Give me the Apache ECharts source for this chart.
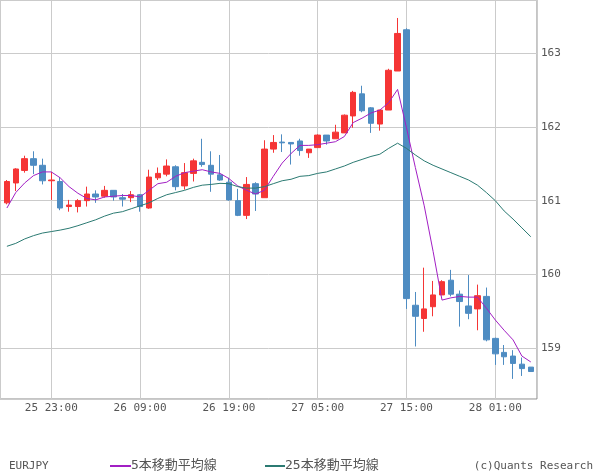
<!DOCTYPE html>
<html><head><meta charset="utf-8">
<script src="https://cdn.jsdelivr.net/npm/echarts@6/dist/echarts.min.js"></script>
<style>html,body{margin:0;padding:0;background:#fff}#c{width:600px;height:475px}</style>
</head><body><div id="c"></div>
<script>
const symbolName = 'EURJPY';
const creditText = '(c)Quants Research';
const legendNames = ['5本移動平均線', '25本移動平均線'];
const xTickLabels = ['25 23:00', '26 09:00', '26 19:00', '27 05:00', '27 15:00', '28 01:00'];
const firstTickIndex = 5;   // candle index of the first labelled hour
const tickEvery = 10;       // hours between labels
const yTickStep = 1;

const opens = [160.97,161.24,161.41,161.57,161.48,161.27,161.26,160.92,160.92,161.00,
  161.09,161.06,161.14,161.04,161.04,161.08,160.90,161.31,161.36,161.46,
  161.20,161.37,161.52,161.48,161.35,161.25,161.00,160.80,161.23,161.04,
  161.70,161.795,161.79,161.81,161.65,161.72,161.89,161.84,161.92,162.15,
  162.45,162.26,162.04,162.23,162.76,163.32,159.58,159.40,159.56,159.72,
  159.92,159.73,159.57,159.53,159.70,159.13,158.94,158.89,158.78,158.74];
const closes = [161.26,161.43,161.57,161.48,161.27,161.28,160.90,160.94,161.00,161.09,
  161.05,161.14,161.05,161.02,161.08,160.92,161.32,161.37,161.47,161.19,
  161.38,161.54,161.49,161.36,161.28,161.01,160.80,161.22,161.09,161.70,
  161.79,161.785,161.77,161.68,161.70,161.89,161.81,161.93,162.16,162.47,
  162.22,162.05,162.23,162.77,163.27,159.67,159.43,159.53,159.72,159.90,
  159.73,159.63,159.47,159.71,159.11,158.92,158.88,158.79,158.72,158.68];
const lows = [160.95,161.13,161.38,161.36,161.22,161.01,160.87,160.85,160.84,160.92,
  160.97,161.04,161.00,160.92,160.98,160.85,160.89,161.28,161.33,161.14,
  161.15,161.26,161.46,161.12,161.27,161.00,160.79,160.75,160.86,161.04,
  161.65,161.66,161.49,161.61,161.58,161.72,161.76,161.84,161.92,161.99,
  162.20,161.92,161.95,162.23,162.76,159.53,159.02,159.22,159.43,159.72,
  159.70,159.29,159.39,159.24,159.09,158.77,158.77,158.58,158.62,158.68];
const highs = [161.28,161.44,161.61,161.67,161.57,161.39,161.32,161.01,161.02,161.19,
  161.14,161.20,161.14,161.09,161.13,161.09,161.42,161.45,161.56,161.48,
  161.51,161.57,161.84,161.67,161.62,161.31,161.16,161.32,161.25,161.82,
  161.89,161.90,161.79,161.84,161.70,161.90,161.89,162.03,162.17,162.49,
  162.56,162.27,162.23,162.79,163.48,163.34,159.76,160.09,159.91,159.92,
  160.06,159.78,159.99,159.86,159.82,159.14,159.04,158.97,158.87,158.74];
const ma5 = [160.90,161.11,161.24,161.34,161.39,161.39,161.31,161.19,161.10,161.03,
  161.01,161.05,161.06,161.07,161.07,161.05,161.14,161.23,161.25,161.33,
  161.38,161.40,161.42,161.39,161.37,161.30,161.20,161.14,161.09,161.14,
  161.33,161.51,161.64,161.75,161.75,161.76,161.78,161.80,161.87,162.06,
  162.12,162.19,162.23,162.33,162.51,161.99,161.45,160.93,160.31,159.65,
  159.68,159.70,159.69,159.69,159.54,159.38,159.24,159.11,158.89,158.81];
const ma25 = [160.38,160.42,160.48,160.525,160.56,160.58,160.60,160.625,160.66,160.70,
  160.74,160.79,160.83,160.85,160.89,160.93,160.97,161.03,161.08,161.11,
  161.14,161.18,161.21,161.22,161.235,161.23,161.19,161.17,161.17,161.19,
  161.23,161.27,161.29,161.33,161.34,161.37,161.39,161.43,161.47,161.52,
  161.56,161.60,161.63,161.71,161.78,161.71,161.62,161.54,161.48,161.43,
  161.38,161.33,161.28,161.21,161.11,161.00,160.86,160.75,160.63,160.51];

const UP = '#f53535', DOWN = '#4e8cc2', MA5C = '#a21fc4', MA25C = '#2b7a72';
const LABEL = '#555';
const monoFont = '"DejaVu Sans Mono", "Noto Sans CJK JP", monospace';

const pos = i => i - firstTickIndex;
const candleData = opens.map((o, i) => [pos(i), o, closes[i], lows[i], highs[i]]);
const ma5Data = ma5.map((v, i) => [pos(i), v]);
const ma25Data = ma25.map((v, i) => [pos(i), v]);

const chart = echarts.init(document.getElementById('c'), null, {renderer: 'canvas'});
chart.setOption({
  animation: false,
  backgroundColor: '#fff',
  grid: {left: 0, top: 0, width: 537, height: 399, show: true, borderColor: '#8a8a8a', borderWidth: 1, backgroundColor: 'transparent'},
  xAxis: {
    type: 'value', min: -5.777, max: 54.70, minInterval: tickEvery, maxInterval: tickEvery,
    axisLine: {show: false}, axisTick: {show: false},
    splitLine: {show: true, lineStyle: {color: '#cbcbcb', width: 1}},
    axisLabel: {
      showMinLabel: false, showMaxLabel: false, margin: 4, color: LABEL,
      fontFamily: monoFont, fontSize: 11,
      formatter: v => {
        const i = Math.round(v / tickEvery);
        return (Math.abs(v - i * tickEvery) < 1e-6 && xTickLabels[i]) ? xTickLabels[i] : '';
      }
    }
  },
  yAxis: {
    type: 'value', position: 'right', min: 158.307, max: 163.724,
    minInterval: yTickStep, maxInterval: yTickStep,
    axisLine: {show: false}, axisTick: {show: false},
    splitLine: {show: true, lineStyle: {color: '#cbcbcb', width: 1}},
    axisLabel: {
      showMinLabel: false, showMaxLabel: false, margin: 4, color: LABEL,
      fontFamily: monoFont, fontSize: 11,
      formatter: v => (Math.abs(v - Math.round(v)) < 1e-6 ? String(Math.round(v)) : '')
    }
  },
  series: [
    {
      type: 'candlestick', name: symbolName, data: candleData,
      encode: {x: 0, y: [1, 2, 3, 4]},
      barWidth: 6,
      itemStyle: {color: UP, color0: DOWN, borderColor: UP, borderColor0: DOWN, borderWidth: 1}
    },
    {type: 'line', name: legendNames[0], data: ma5Data, symbol: 'none', z: 5,
     lineStyle: {color: MA5C, width: 1}},
    {type: 'line', name: legendNames[1], data: ma25Data, symbol: 'none', z: 5,
     lineStyle: {color: MA25C, width: 1}}
  ],
  graphic: [
    {type: 'text', x: 9, y: 466, style: {text: symbolName, font: '11px ' + monoFont, fill: LABEL, verticalAlign: 'middle'}},
    {type: 'line', shape: {x1: 110, y1: 466, x2: 131, y2: 466}, style: {stroke: MA5C, lineWidth: 2}},
    {type: 'text', x: 131, y: 466, style: {text: legendNames[0], font: '13px ' + monoFont, fill: LABEL, verticalAlign: 'middle'}},
    {type: 'line', shape: {x1: 265, y1: 466, x2: 285, y2: 466}, style: {stroke: MA25C, lineWidth: 2}},
    {type: 'text', x: 285, y: 466, style: {text: legendNames[1], font: '13px ' + monoFont, fill: LABEL, verticalAlign: 'middle'}},
    {type: 'text', x: 593, y: 466, style: {text: creditText, font: '11px ' + monoFont, fill: LABEL, align: 'right', verticalAlign: 'middle'}}
  ]
});
</script></body></html>
